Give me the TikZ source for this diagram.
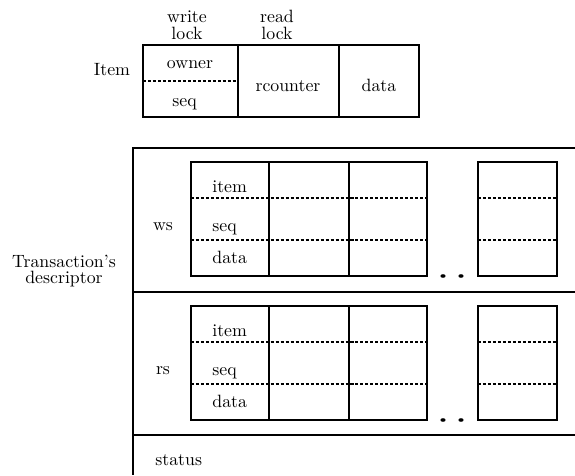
\documentclass[tikz,border=0pt]{standalone}
\begin{document}
\begin{tikzpicture}[x=0.5618pt,y=-0.5618pt,
  box/.style={line width=0.7pt},
  dsh/.style={line width=0.7pt, dash pattern=on 1.7pt off 1.1pt},
  lbl/.style={inner sep=0pt, anchor=base},
  lblw/.style={inner sep=0pt, anchor=base west}]
\useasboundingbox (0,0) rectangle (575,475);
% ---------- Item ----------
\draw[box] (143,45) rectangle (419,117);
\draw[box] (238,45) -- (238,117);
\draw[box] (339,45) -- (339,117);
\draw[dsh] (143,81) -- (238,81);
\node[lbl] (w1) at (187,22) {write};
\node[lbl] (w2) at (187,39) {lock};
\node[lbl] (r1) at (277,22) {read};
\node[lbl] (r2) at (277,39) {lock};
\node[lbl] (item) at (112,75) {Item};
\node[lbl] (owner) at (190,68) {owner};
\node[lblw] (seq0) at (172,106) {seq};
\node[lbl] (rc) at (288,91) {rcounter};
\node[lbl] (dat0) at (379,91) {data};
% ---------- Descriptor ----------
\draw[box] (575,148) -- (133,148) -- (133,475);
\draw[box] (133,292) -- (575,292);
\draw[box] (133,435) -- (575,435);
\node[lbl] (td1) at (64,267) {Transaction's};
\node[lbl] (td2) at (64,283) {descriptor};
\node[lblw] (status) at (155,465) {status};
% ws and rs tables
\foreach \t/\lab/\top in {ws/ws/162, rs/rs/306}{
  \pgfmathsetmacro{\bot}{\top+114}
  \pgfmathsetmacro{\da}{\top+36}
  \pgfmathsetmacro{\db}{\top+78}
  \draw[box] (191,\top) rectangle (427,\bot);
  \draw[box] (269,\top) -- (269,\bot);
  \draw[box] (349,\top) -- (349,\bot);
  \draw[box] (478,\top) rectangle (557,\bot);
  \draw[dsh] (191,\da) -- (427,\da);
  \draw[dsh] (191,\db) -- (427,\db);
  \draw[dsh] (478,\da) -- (557,\da);
  \draw[dsh] (478,\db) -- (557,\db);
  \fill (443,\bot) ellipse [x radius=2.6, y radius=1.8];
  \fill (461,\bot) ellipse [x radius=2.6, y radius=1.8];
  \node[lbl] (\t-name) at (163,\top+68) {\lab};
  \node[lblw] (\t-item) at (212,\top+30) {item};
  \node[lblw] (\t-seq) at (212,\top+69) {seq};
  \node[lblw] (\t-data) at (212,\top+101) {data};
}
\end{tikzpicture}
\end{document}
